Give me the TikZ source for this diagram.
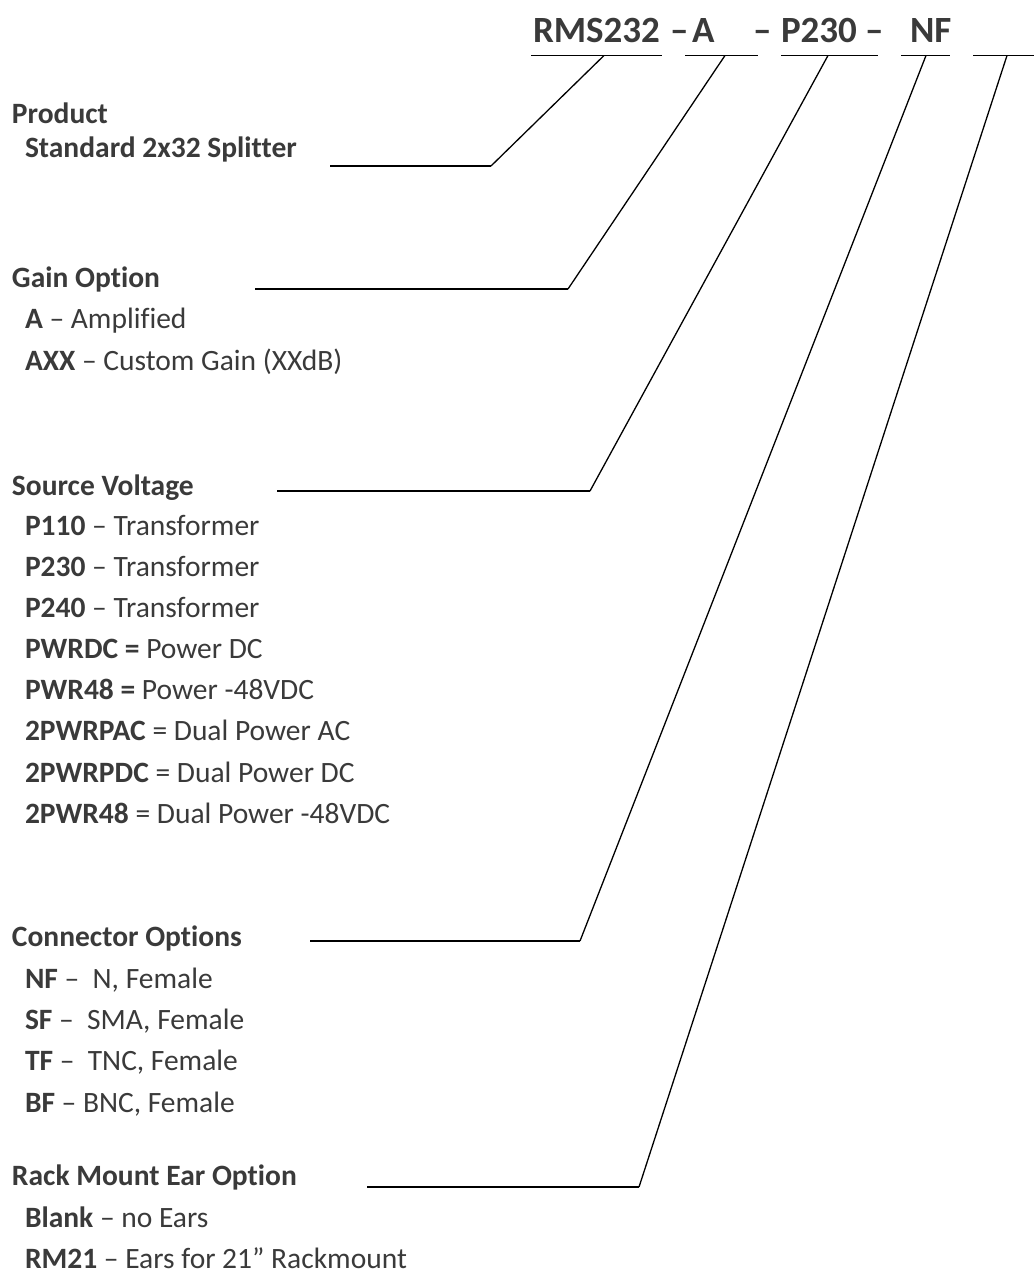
\documentclass[tikz,border=0pt]{standalone}
\usepackage{fontspec}
\setmainfont{Carlito}[Ligatures={NoCommon,TeX}]
\definecolor{txt}{HTML}{3A3A3A}
\begin{document}
\begin{tikzpicture}[x=1pt,y=-1pt,
  lbl/.style={anchor=base west,inner sep=0pt,outer sep=0pt,text=txt,font=\fontsize{29.5}{35}\selectfont},
  head/.style={anchor=base west,inner sep=0pt,outer sep=0pt,text=txt,font=\fontsize{37}{44}\selectfont\bfseries},
  uline/.style={line width=1.8pt,line cap=butt},
  diag/.style={line width=1.3pt,line join=miter}]
\useasboundingbox (0,0) rectangle (1034,1277);
% header
\node[head] (hRMS) at (533,42) {RMS232};
\node[head] (hd1) at (670,42) {–};
\node[head] (hA) at (692,42) {A};
\node[head] (hd2) at (753,42) {–};
\node[head] (hP) at (781,42) {P230};
\node[head] (hd3) at (865,42) {–};
\node[head] (hNF) at (910,42) {NF};
% header underline coordinates
\coordinate (u1a) at (531,55.5); \coordinate (u1b) at (662,55.5); \coordinate (u1m) at (604,55.5);
\coordinate (u2a) at (685,55.5); \coordinate (u2b) at (758,55.5); \coordinate (u2m) at (725,55.5);
\coordinate (u3a) at (781,55.5); \coordinate (u3b) at (878,55.5); \coordinate (u3m) at (828,55.5);
\coordinate (u4a) at (901,55.5); \coordinate (u4b) at (950,55.5); \coordinate (u4m) at (926,55.5);
\coordinate (u5a) at (973,55.5); \coordinate (u5b) at (1034,55.5); \coordinate (u5m) at (1007,55.5);
\foreach \i in {1,...,5} {\draw[uline] (u\i a) -- (u\i b);}
% left labels
\node[lbl] (prod) at (12,123) {\bfseries Product};
\node[lbl] (prod1) at (25,157) {\bfseries Standard 2x32 Splitter};
\node[lbl] (gain) at (12,287) {\bfseries Gain Option};
\node[lbl] (gain1) at (25,328) {\textbf{A} – Amplified};
\node[lbl] (gain2) at (25,370) {\textbf{AXX} – Custom Gain (XXdB)};
\node[lbl] (src) at (12,495) {\bfseries Source Voltage};
\node[lbl] (src1) at (25,535) {\textbf{P110} – Transformer};
\node[lbl] (src2) at (25,576) {\textbf{P230} – Transformer};
\node[lbl] (src3) at (25,617) {\textbf{P240} – Transformer};
\node[lbl] (src4) at (25,658) {\textbf{PWRDC =} Power DC};
\node[lbl] (src5) at (25,699) {\textbf{PWR48 =} Power -48VDC};
\node[lbl] (src6) at (25,740) {\textbf{2PWRPAC} = Dual Power AC};
\node[lbl] (src7) at (25,782) {\textbf{2PWRPDC} = Dual Power DC};
\node[lbl] (src8) at (25,823) {\textbf{2PWR48} = Dual Power -48VDC};
\node[lbl] (con) at (12,946) {\bfseries Connector Options};
\node[lbl] (con1) at (25,988) {\textbf{NF} –\ \ N, Female};
\node[lbl] (con2) at (25,1029) {\textbf{SF} –\ \ SMA, Female};
\node[lbl] (con3) at (25,1070) {\textbf{TF} –\ \ TNC, Female};
\node[lbl] (con4) at (25,1112) {\textbf{BF} – BNC, Female};
\node[lbl] (rack) at (12,1185) {\bfseries Rack Mount Ear Option};
\node[lbl] (rack1) at (25,1227) {\textbf{Blank} – no Ears};
\node[lbl] (rack2) at (25,1268) {\textbf{RM21} – Ears for 21” Rackmount};
% leader lines
\coordinate (l1a) at (330,166); \coordinate (l1b) at (491,166);
\coordinate (l2a) at (255,289); \coordinate (l2b) at (568,289);
\coordinate (l3a) at (277,491); \coordinate (l3b) at (590,491);
\coordinate (l4a) at (310,941); \coordinate (l4b) at (580,941);
\coordinate (l5a) at (367,1187); \coordinate (l5b) at (639,1187);
\foreach \i in {1,...,5} {
  \draw[uline] (l\i a) -- (l\i b);
  \draw[diag] (l\i b) -- (u\i m);
}
\end{tikzpicture}
\end{document}
